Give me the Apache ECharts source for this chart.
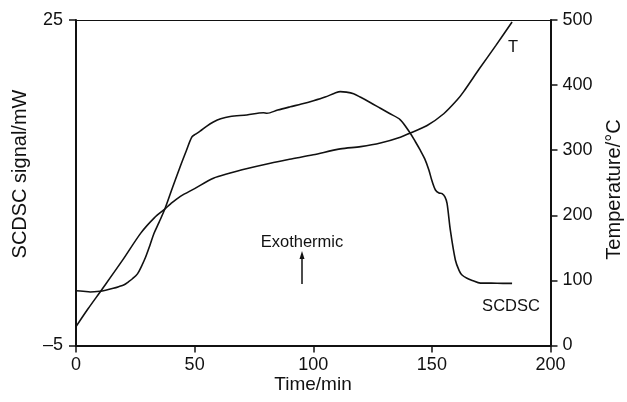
<!DOCTYPE html>
<html>
<head>
<meta charset="utf-8">
<script src="https://cdn.jsdelivr.net/npm/echarts@6/dist/echarts.min.js"></script>
<style>html,body{margin:0;padding:0;background:#fff}#c{width:627px;height:402px}</style>
</head>
<body>
<div id="c"></div>
<script>
// SCDSC signal (mW) vs time (min)
const scdscTime = [0, 3, 6, 10, 12.5, 15.7, 18, 20.3, 22, 23.8, 25.9, 27.6, 29.4, 31.1, 32.9, 35, 37.4, 40.5, 43.9, 46.5, 48.8, 50.2, 52.3, 55, 57.9, 61, 65, 72, 79, 80.5, 85, 90.3, 95, 100.1, 105, 109, 111.4, 114, 117, 119.8, 124, 128.3, 132, 136.7, 140.9, 143, 145.1, 147, 148.7, 150, 151.5, 153, 154.3, 155.5, 156.4, 157.8, 159.9, 161.5, 162.7, 164.8, 167, 170.5, 175, 180, 183.8];
const scdscValue = [0.05, 0.0, -0.07, 0.0, 0.1, 0.27, 0.42, 0.6, 0.85, 1.15, 1.6, 2.3, 3.18, 4.2, 5.34, 6.35, 7.55, 9.45, 11.48, 12.95, 14.2, 14.45, 14.75, 15.2, 15.6, 15.9, 16.1, 16.25, 16.45, 16.4, 16.7, 17.0, 17.25, 17.56, 17.9, 18.25, 18.4, 18.35, 18.2, 17.9, 17.4, 16.86, 16.4, 15.8, 14.56, 13.8, 13.0, 12.2, 11.2, 10.2, 9.33, 9.05, 9.0, 8.7, 8.1, 5.6, 2.88, 1.9, 1.5, 1.2, 1.0, 0.75, 0.75, 0.73, 0.73];
// Temperature (°C) vs time (min)
const tempTime = [0, 5, 11, 20, 27.3, 33, 37.4, 40, 44, 50, 57.9, 65, 70, 81.9, 90, 100, 111.4, 120, 128.3, 136.7, 140.9, 148, 155, 160.6, 163.4, 170, 177, 183.8];
const tempValue = [29, 56, 86.5, 133, 172.6, 196, 209.5, 218, 229, 241, 257, 265, 270, 280, 286, 293, 302, 305.5, 311, 320, 326.5, 338, 356, 377, 390, 425, 461, 497];
// Axis ticks
const xTicks = [0, 50, 100, 150, 200];
const leftTicks = [-5, 25];
const rightTicks = [0, 100, 200, 300, 400, 500];

const font = 'Liberation Sans';
const chart = echarts.init(document.getElementById('c'), null, {renderer: 'canvas'});
const zip = (a, b) => a.map((v, i) => [v, b[i]]);

chart.setOption({
  animation: false,
  backgroundColor: '#fff',
  textStyle: {fontFamily: font, color: '#111'},
  grid: {left: 76, right: 76.5, top: 20, bottom: 56.5, containLabel: false},
  xAxis: [{
    type: 'value', min: xTicks[0], max: xTicks[xTicks.length - 1], interval: 50,
    position: 'bottom',
    axisLine: {show: true, onZero: false, lineStyle: {color: '#111', width: 2}},
    axisTick: {length: 7, lineStyle: {color: '#111', width: 1.5}},
    axisLabel: {fontFamily: font, fontSize: 18, color: '#111', margin: 11},
    splitLine: {show: false}
  }, {
    type: 'value', min: 0, max: 200, position: 'top',
    axisLine: {show: true, onZero: false, lineStyle: {color: '#111', width: 1}},
    axisTick: {show: false}, axisLabel: {show: false}, splitLine: {show: false}
  }],
  yAxis: [{
    type: 'value', min: leftTicks[0], max: leftTicks[1], position: 'left',
    axisLine: {show: true, onZero: false, lineStyle: {color: '#111', width: 2}},
    axisTick: {show: true, length: 7, customValues: leftTicks, lineStyle: {color: '#111', width: 1.5}},
    axisLabel: {fontFamily: font, fontSize: 18, color: '#111', margin: 13, customValues: leftTicks,
      formatter: v => (v < 0 ? '\u2013' + Math.abs(v) : String(v))},
    splitLine: {show: false}
  }, {
    type: 'value', min: 0, max: 500, interval: 100, position: 'right',
    axisLine: {show: true, onZero: false, lineStyle: {color: '#111', width: 2}},
    axisTick: {show: true, length: 7, lineStyle: {color: '#111', width: 1.5}},
    axisLabel: {fontFamily: font, fontSize: 18, color: '#111', margin: 12},
    splitLine: {show: false}
  }],
  series: [{
    name: 'SCDSC', type: 'line', xAxisIndex: 0, yAxisIndex: 0,
    data: zip(scdscTime, scdscValue), showSymbol: false, symbol: 'none',
    smooth: 0.3,
    lineStyle: {color: '#111', width: 1.6}
  }, {
    name: 'T', type: 'line', xAxisIndex: 0, yAxisIndex: 1,
    data: zip(tempTime, tempValue), showSymbol: false, symbol: 'none',
    smooth: 0.3,
    lineStyle: {color: '#111', width: 1.6}
  }],
  graphic: [
    {type: 'text', x: 20, y: 174, rotation: Math.PI / 2, style: {text: 'SCDSC signal/mW', font: '20px ' + font, fill: '#111', align: 'center', verticalAlign: 'middle'}},
    {type: 'text', x: 614.5, y: 189.5, rotation: Math.PI / 2, style: {text: 'Temperature/\u00b0C', font: '20px ' + font, fill: '#111', align: 'center', verticalAlign: 'middle'}},
    {type: 'text', x: 313, y: 385, style: {text: 'Time/min', font: '19px ' + font, fill: '#111', align: 'center', verticalAlign: 'middle'}},
    {type: 'text', x: 513, y: 47, style: {text: 'T', font: '16.5px ' + font, fill: '#111', align: 'center', verticalAlign: 'middle'}},
    {type: 'text', x: 511, y: 306, style: {text: 'SCDSC', font: '16.5px ' + font, fill: '#111', align: 'center', verticalAlign: 'middle'}},
    {type: 'text', x: 302, y: 242, style: {text: 'Exothermic', font: '16.5px ' + font, fill: '#111', align: 'center', verticalAlign: 'middle'}},
    {type: 'line', shape: {x1: 302, y1: 284, x2: 302, y2: 256}, style: {stroke: '#111', lineWidth: 1.5}},
    {type: 'polygon', shape: {points: [[302, 251], [299.5, 259], [304.5, 259]]}, style: {fill: '#111'}}
  ]
});
</script>
</body>
</html>
